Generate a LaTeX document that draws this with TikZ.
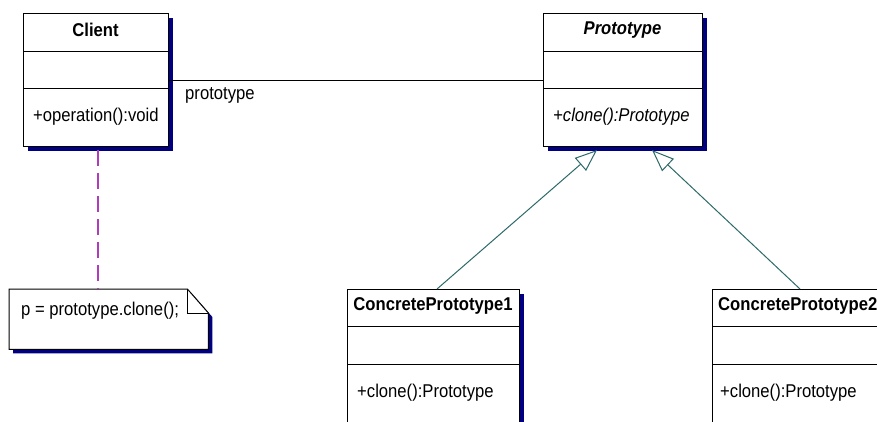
\documentclass[tikz,border=0pt]{standalone}
\usepackage{fontspec}
\setmainfont{Liberation Sans}[FakeStretch=0.9]
\usetikzlibrary{arrows.meta,shadows,calc}
\definecolor{shadowblue}{RGB}{0,0,128}
\definecolor{inhcol}{RGB}{45,105,105}
\definecolor{notecol}{RGB}{175,60,185}
\begin{document}
\begin{tikzpicture}[x=1pt,y=-1pt,
  cls/.style={draw=black, fill=white, line width=1pt, anchor=north west, inner sep=0pt,
    drop shadow={shadow xshift=4pt, shadow yshift=-4pt, fill=shadowblue, opacity=1}},
  txt/.style={font=\fontsize{18.5}{20}\selectfont, inner sep=0pt},
  divider/.style={draw=black, line width=1pt},
  inherit/.style={draw=inhcol, line width=1pt, -{Triangle[open, length=22pt, width=17pt, fill=white, line width=1pt]}},
  assoc/.style={draw=black, line width=1pt},
  anchorline/.style={draw=notecol, line width=1.3pt, dash pattern=on 16pt off 7pt}]
\clip (0,0) rectangle (877,421);
\fill[white] (0,0) rectangle (877,421);

% Client
\node[cls, minimum width=145pt, minimum height=133pt] (client) at (23,13) {};
\draw[divider] ($(client.north west)+(0,38)$) -- ($(client.north east)+(0,38)$);
\draw[divider] ($(client.north west)+(0,75)$) -- ($(client.north east)+(0,75)$);
\node[txt, font=\fontsize{18.5}{20}\selectfont\bfseries] (clientname) at (95.5,30) {Client};
\node[txt, anchor=west] (clientop) at (33,117) {+operation():void};

% Prototype
\node[cls, minimum width=159pt, minimum height=133pt] (proto) at (543,13) {};
\draw[divider] ($(proto.north west)+(0,38)$) -- ($(proto.north east)+(0,38)$);
\draw[divider] ($(proto.north west)+(0,75)$) -- ($(proto.north east)+(0,75)$);
\node[txt, font=\fontsize{18.5}{20}\selectfont\bfseries\itshape] (protoname) at (622.5,30) {Prototype};
\node[txt, anchor=west, font=\fontsize{18.5}{20}\selectfont\itshape] (protoop) at (553,117) {+clone():Prototype};

% Concrete prototypes
\node[cls, minimum width=172pt, minimum height=150pt] (cp1) at (347,289) {};
\draw[divider] ($(cp1.north west)+(0,37)$) -- ($(cp1.north east)+(0,37)$);
\draw[divider] ($(cp1.north west)+(0,75)$) -- ($(cp1.north east)+(0,75)$);
\node[txt, font=\fontsize{18.5}{20}\selectfont\bfseries] (cp1name) at (433,306) {ConcretePrototype1};
\node[txt, anchor=west] (cp1op) at (357,393) {+clone():Prototype};

\node[cls, minimum width=172pt, minimum height=150pt] (cp2) at (712,289) {};
\draw[divider] ($(cp2.north west)+(0,37)$) -- ($(cp2.north east)+(0,37)$);
\draw[divider] ($(cp2.north west)+(0,75)$) -- ($(cp2.north east)+(0,75)$);
\node[txt, anchor=west, font=\fontsize{18.5}{20}\selectfont\bfseries] (cp2name) at (718,306) {ConcretePrototype2};
\node[txt, anchor=west] (cp2op) at (720,393) {+clone():Prototype};

% Note
\node[inner sep=0pt, minimum width=199pt, minimum height=60pt, anchor=north west] (note) at (9,289) {};
\fill[shadowblue] ($(note.north west)+(4,4)$) -- ($(note.north east)+(-17,4)$) -- ($(note.north east)+(4,28)$) -- ($(note.south east)+(4,4)$) -- ($(note.south west)+(4,4)$) -- cycle;
\draw[fill=white, line width=1pt] (note.north west) -- ($(note.north east)+(-21,0)$) -- ($(note.north east)+(0,24)$) -- (note.south east) -- (note.south west) -- cycle;
\draw[line width=1pt] ($(note.north east)+(-21,0)$) -- ($(note.north east)+(-21,24)$) -- ($(note.north east)+(0,24)$);
\node[txt, anchor=west] (notetext) at (21,311) {p = prototype.clone();};

% Association
\draw[assoc] (client.east) -- (proto.west);
\node[txt, anchor=west] (assoclabel) at (185,95) {prototype};

% Note anchor
\coordinate (d1) at (98,150);
\draw[anchorline] (d1) -- (d1 |- note.north);

% Generalizations
\coordinate (s1) at (437,289);
\coordinate (t1) at (597,150);
\coordinate (s2) at (800,289);
\coordinate (t2) at (652,150);
\draw[inherit] (s1) -- (t1);
\draw[inherit] (s2) -- (t2);
\end{tikzpicture}
\end{document}
